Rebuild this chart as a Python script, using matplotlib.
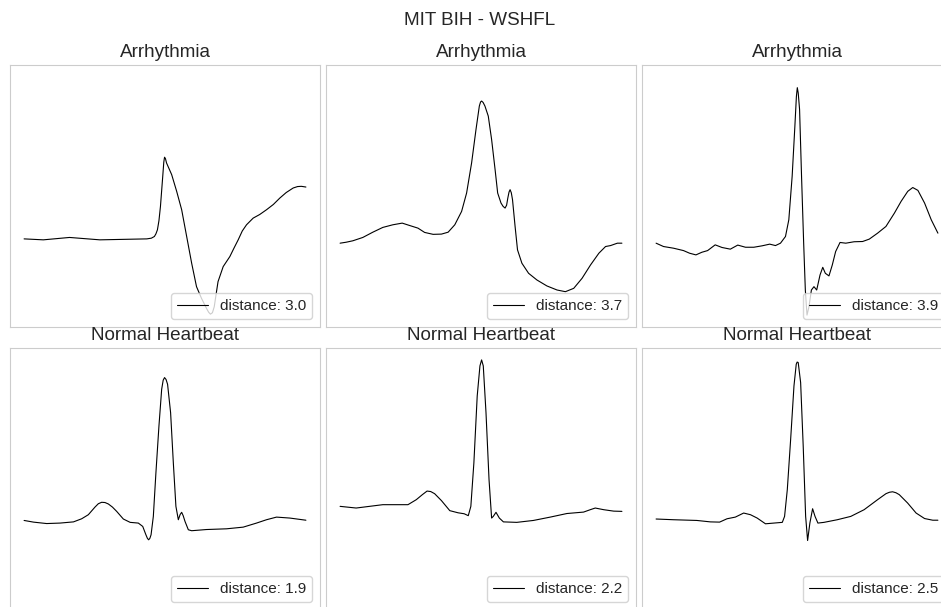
import numpy as np
import matplotlib
matplotlib.use('Agg')
import matplotlib.pyplot as plt
import seaborn as sns

sns.set_style('white')
plt.rcParams['font.family'] = ['Liberation Sans', 'DejaVu Sans']
plt.rcParams['axes.edgecolor'] = '.8'

titles = ['Arrhythmia'] * 3 + ['Normal Heartbeat'] * 3
distances = [3.0, 3.7, 3.9, 1.9, 2.2, 2.5]

# arrhythmia beats (sample index, amplitude)
a1_x = [0, 12.7, 30, 50, 81, 84, 86, 87, 88, 89, 90, 91.5, 92.2, 92.7, 93.3, 94, 97.4, 100.7, 104,
        107.3, 110.6, 113.8, 117.1, 120.4, 121.8, 123, 124.3, 125.5, 126.8, 128, 131.4, 135.8, 138.5,
        141.3, 144, 146.8, 151.2, 155.5, 160, 164.5, 168.8, 173, 177.6, 180.5, 183, 186]
a1_y = [0.319, 0.315, 0.325, 0.315, 0.319, 0.322, 0.329, 0.340, 0.357, 0.395, 0.455, 0.58, 0.640,
        0.661, 0.655, 0.637, 0.588, 0.518, 0.441, 0.329, 0.217, 0.119, 0.070, 0.028, 0.012, 0.004,
        0.010, 0.035, 0.090, 0.14, 0.203, 0.245, 0.280, 0.315, 0.352, 0.378, 0.406, 0.421, 0.441,
        0.463, 0.49, 0.513, 0.532, 0.538, 0.539, 0.536]

a2_x = [0, 4, 8.4, 15, 21.6, 28.2, 34.8, 41, 45.9, 51.4, 55.8, 61.4, 66.9, 71.3, 75.7, 80.2, 83.5,
        86.8, 89.7, 91.9, 92.7, 93.4, 94.4, 95.6, 97.8, 100, 102.3, 104, 106.2, 107.6, 108.9, 109.9,
        110.7, 111.5, 112.2, 113, 113.8, 115.5, 117.1, 120, 124.4, 129.9, 136.5, 143.2, 148.7, 154.2,
        159.7, 165.3, 170.8, 175.2, 178.5, 183, 186]
a2_y = [0.301, 0.305, 0.311, 0.325, 0.347, 0.367, 0.378, 0.385, 0.375, 0.364, 0.346, 0.338, 0.339,
        0.347, 0.378, 0.434, 0.511, 0.637, 0.777, 0.875, 0.892, 0.896, 0.890, 0.875, 0.833, 0.735,
        0.609, 0.511, 0.469, 0.455, 0.448, 0.460, 0.490, 0.515, 0.525, 0.512, 0.483, 0.371, 0.273,
        0.217, 0.175, 0.147, 0.122, 0.105, 0.098, 0.112, 0.154, 0.210, 0.259, 0.287, 0.291, 0.301, 0.301]

a3_x = [0, 4.9, 11.5, 18.1, 22.1, 26.3, 30.2, 34, 39, 43.5, 49, 53.9, 59, 64.5, 70, 75, 78.8, 82.1,
        85.4, 87.6, 89.8, 91.6, 92.6, 93.2, 93.8, 94.7, 96, 97.4, 98.5, 99.6, 100.9, 102.5, 104.2, 106,
        108.2, 110, 111.7, 114.1, 116.3, 118.5, 121.4, 125.2, 130.7, 136.3, 140.7, 146.2, 151.7, 157.3,
        161.7, 166.1, 169.4, 172.8, 177.2, 181.6, 186]
a3_y = [0.301, 0.287, 0.280, 0.270, 0.259, 0.252, 0.263, 0.270, 0.294, 0.283, 0.276, 0.293, 0.284,
        0.284, 0.290, 0.297, 0.291, 0.301, 0.329, 0.399, 0.581, 0.791, 0.915, 0.952, 0.930, 0.861,
        0.581, 0.301, 0.105, 0.0, 0.035, 0.105, 0.119, 0.105, 0.168, 0.200, 0.175, 0.164, 0.210,
        0.266, 0.304, 0.301, 0.307, 0.308, 0.318, 0.343, 0.371, 0.427, 0.476, 0.518, 0.534, 0.522,
        0.469, 0.399, 0.343]

# normal beats
n1_x = [0, 6.2, 14.9, 23.7, 32.6, 38, 42.4, 46.8, 49, 51.2, 53.4, 55.6, 58.3, 61.1, 65.5, 70, 75.4,
        78.3, 80.4, 81.4, 82.2, 83, 83.8, 85.3, 87, 89, 90.8, 91.8, 92.7, 93.7, 94.7, 96.7, 98.5, 100.2,
        101.8, 103, 104, 105, 106.2, 108.4, 110.6, 120.4, 133.6, 144.6, 153.4, 160, 166.6, 175.4, 186]
n1_y = [0.325, 0.318, 0.312, 0.314, 0.319, 0.332, 0.349, 0.381, 0.395, 0.401, 0.400, 0.394, 0.381,
        0.363, 0.331, 0.317, 0.314, 0.300, 0.265, 0.250, 0.244, 0.250, 0.265, 0.342, 0.524, 0.720,
        0.874, 0.912, 0.923, 0.915, 0.895, 0.776, 0.566, 0.384, 0.328, 0.350, 0.359, 0.345, 0.321,
        0.286, 0.282, 0.287, 0.290, 0.297, 0.314, 0.328, 0.339, 0.335, 0.326]

n2_x = [0, 10.6, 19.4, 28.2, 36, 44.8, 50.3, 54.3, 57.4, 59.8, 62.4, 66.9, 72.4, 77.9, 81.9, 84.6,
        86.3, 88.3, 90.5, 92.3, 93.4, 94.5, 96.3, 98.3, 100, 101.1, 102.9, 105.1, 107.8, 116.6, 127.6,
        138.7, 149.7, 160.7, 165.1, 168.4, 174, 180.6, 186]
n2_y = [0.384, 0.377, 0.384, 0.391, 0.391, 0.391, 0.412, 0.433, 0.448, 0.446, 0.437, 0.408, 0.366,
        0.357, 0.353, 0.345, 0.384, 0.566, 0.846, 0.972, 0.997, 0.972, 0.776, 0.496, 0.335, 0.342,
        0.359, 0.335, 0.319, 0.317, 0.325, 0.339, 0.354, 0.360, 0.370, 0.377, 0.370, 0.364, 0.363]

n3_x = [0, 11.5, 26.9, 35.8, 41.9, 46.8, 52.3, 57.8, 62.3, 66.7, 72.2, 77.7, 83.3, 84.8, 86.6, 88.8,
        91, 92.5, 93.1, 93.8, 95.4, 97.1, 98.7, 100, 101.5, 103.3, 104.9, 106.8, 110.8, 119.6, 128.5,
        137.3, 146.2, 151.7, 154, 156.1, 158.3, 160.5, 166, 171.6, 177.2, 182.6, 186]
n3_y = [0.331, 0.328, 0.325, 0.319, 0.318, 0.332, 0.339, 0.356, 0.349, 0.335, 0.311, 0.314, 0.317,
        0.342, 0.454, 0.664, 0.888, 0.979, 0.988, 0.986, 0.902, 0.636, 0.342, 0.241, 0.314, 0.374,
        0.342, 0.314, 0.317, 0.328, 0.342, 0.370, 0.412, 0.437, 0.443, 0.445, 0.441, 0.433, 0.398,
        0.356, 0.333, 0.326, 0.326]

beats = [(a1_x, a1_y), (a2_x, a2_y), (a3_x, a3_y), (n1_x, n1_y), (n2_x, n2_y), (n3_x, n3_y)]

W, H = 941, 607
fig = plt.figure(figsize=(W / 100, H / 100), dpi=100)

col_left = [10, 326, 642]
row_top = [65, 348]
aw, ah = 310, 262

axes = []
for i, (bx, by) in enumerate(beats):
    r, c = divmod(i, 3)
    rect = [col_left[c] / W, 1 - (row_top[r] + ah) / H, aw / W, ah / H]
    if axes:
        ax = fig.add_axes(rect, sharex=axes[0], sharey=axes[0])
    else:
        ax = fig.add_axes(rect)
    axes.append(ax)
    ax.plot(bx, by, color='k', lw=0.8, label='distance: %.1f' % distances[i])
    ax.set_title(titles[i], fontsize=13.6, color='.15')
    ax.set_xticks([])
    ax.set_yticks([])
    ax.legend(loc='lower right', fontsize=11)

fig.suptitle('MIT BIH - WSHFL', x=480 / W, y=1 - 12 / H, fontsize=13.6, color='.15')

fig.savefig('out.png', dpi=100)
